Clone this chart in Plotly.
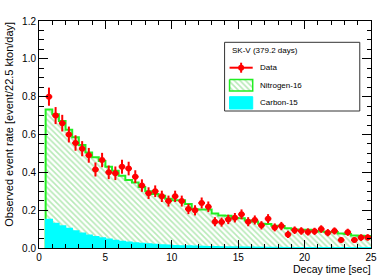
import numpy as np
import plotly.graph_objects as go

# ---- data ----
bin_edges = [0.5 + 0.5 * i for i in range(50)]  # 0.5 ... 25.0
bin_centers = [0.75 + 0.5 * i for i in range(49)]

data_rate = [0.80, 0.70, 0.66, 0.60, 0.555, 0.525, 0.49, 0.415, 0.465, 0.40,
             0.395, 0.43, 0.42, 0.377, 0.33, 0.29, 0.30, 0.273, 0.248, 0.273,
             0.248, 0.206, 0.199, 0.238, 0.218, 0.139, 0.137, 0.151, 0.160, 0.178,
             0.139, 0.148, 0.120, 0.155, 0.109, 0.116, 0.072, 0.094, 0.090, 0.085,
             0.088, 0.100, 0.081, 0.090, 0.042, 0.083, 0.042, 0.055, 0.056]
data_err = [0.048, 0.045, 0.044, 0.042, 0.041, 0.040, 0.039, 0.037, 0.038, 0.036,
            0.036, 0.037, 0.036, 0.034, 0.033, 0.031, 0.031, 0.030, 0.029, 0.030,
            0.029, 0.027, 0.027, 0.029, 0.028, 0.024, 0.024, 0.025, 0.025, 0.026,
            0.024, 0.024, 0.022, 0.024, 0.021, 0.022, 0.019, 0.020, 0.020, 0.019,
            0.019, 0.020, 0.019, 0.019, 0.015, 0.019, 0.015, 0.017, 0.017]

# stacked total (Nitrogen-16 on top of Carbon-15)
n16_total = [0.732, 0.707, 0.672, 0.625, 0.585, 0.545, 0.505, 0.480, 0.460, 0.430,
             0.408, 0.382, 0.360, 0.346, 0.322, 0.300, 0.285, 0.276, 0.260, 0.253,
             0.252, 0.232, 0.205, 0.204, 0.203, 0.183, 0.172, 0.170, 0.158, 0.157,
             0.145, 0.140, 0.128, 0.127, 0.117, 0.116, 0.105, 0.098, 0.097, 0.096,
             0.090, 0.087, 0.085, 0.084, 0.076, 0.074, 0.066, 0.065, 0.063]
c15 = [0.151, 0.130, 0.116, 0.103, 0.090, 0.078, 0.068, 0.060, 0.053, 0.046,
       0.040, 0.035, 0.031, 0.027, 0.024, 0.021, 0.018, 0.016, 0.014, 0.012,
       0.011, 0.010, 0.009, 0.008, 0.007, 0.006, 0.005, 0.005, 0.004, 0.004,
       0.003, 0.003, 0.003, 0.002, 0.002, 0.002, 0.002, 0.001, 0.001, 0.001,
       0.001, 0.001, 0.001, 0.001, 0.001, 0.001, 0.001, 0.001, 0.001]

x_ticks = [0, 5, 10, 15, 20, 25]
y_ticks = [0.0, 0.2, 0.4, 0.6, 0.8, 1.0, 1.2]

legend_header = "SK-V (379.2 days)"
legend_labels = ["Data", "Nitrogen-16", "Carbon-15"]

FONT = "Liberation Sans, Arial, sans-serif"
GREEN = "#22ee22"
HATCH = "#6fd46f"
CYAN = "#00ffff"
RED = "#ff0000"

# plot-area geometry in pixels (used to place the hand-drawn legend)
PL, PR, PT, PB = 39, 373, 21, 248


def px(x):
    return (x - PL) / (PR - PL)


def py(y):
    return (PB - y) / (PB - PT)


def step(values):
    xs = [bin_edges[0]]
    ys = [0.0]
    for i, v in enumerate(values):
        xs += [bin_edges[i], bin_edges[i + 1]]
        ys += [v, v]
    return xs, ys


fig = go.Figure()

gx, gy = step(n16_total)
fig.add_trace(go.Scatter(x=gx, y=gy, mode="lines", fill="tozeroy",
                         fillcolor="rgba(0,0,0,0)",
                         fillpattern=dict(shape="\\", fgcolor=HATCH, bgcolor="white",
                                          size=4, solidity=0.4),
                         line=dict(color=GREEN, width=2), showlegend=False,
                         hoverinfo="skip"))
cx, cy = step(c15)
fig.add_trace(go.Scatter(x=cx, y=cy, mode="lines", fill="tozeroy",
                         fillcolor=CYAN, line=dict(color=CYAN, width=1.5),
                         showlegend=False, hoverinfo="skip"))

fig.add_trace(go.Scatter(x=bin_centers, y=data_rate, mode="markers",
                         marker=dict(color=RED, size=6, symbol="circle"),
                         error_y=dict(type="data", array=data_err, color=RED,
                                      thickness=2, width=0),
                         error_x=dict(type="constant", value=0.25, color=RED,
                                      thickness=2, width=0),
                         showlegend=False, cliponaxis=False))

# ---- manual legend on a pixel-like overlay axis ----
LX0, LX1, LY0, LY1 = 225.7, 361.7, 42.3, 111.0
sym_x0, sym_x1 = 230.7, 254.0
text_x = 259.3
fig.add_trace(go.Scatter(x=[(sym_x0 + sym_x1) / 2], y=[67.7], mode="markers",
                         xaxis="x2", yaxis="y2",
                         marker=dict(color=RED, size=6),
                         error_x=dict(type="constant", value=(sym_x1 - sym_x0) / 2,
                                      color=RED, thickness=2, width=0),
                         error_y=dict(type="constant", value=5, color=RED,
                                      thickness=2, width=0),
                         showlegend=False))
fig.add_trace(go.Scatter(x=[sym_x0, sym_x1, sym_x1, sym_x0, sym_x0],
                         y=[79.5, 79.5, 91, 91, 79.5], mode="lines",
                         xaxis="x2", yaxis="y2", fill="toself",
                         fillcolor="rgba(0,0,0,0)",
                         fillpattern=dict(shape="\\", fgcolor=HATCH, bgcolor="white",
                                          size=4, solidity=0.4),
                         line=dict(color=GREEN, width=1.5), showlegend=False))
fig.add_trace(go.Scatter(x=[sym_x0, sym_x1, sym_x1, sym_x0, sym_x0],
                         y=[96.7, 96.7, 109, 109, 96.7], mode="lines",
                         xaxis="x2", yaxis="y2", fill="toself",
                         fillcolor=CYAN, line=dict(color=CYAN, width=1),
                         showlegend=False))

annotations = [
    dict(x=px(LX0 + 5), y=py(50), xref="paper", yref="paper", text=legend_header,
         showarrow=False, xanchor="left", yanchor="middle",
         font=dict(family=FONT, size=8, color="black")),
]
for lab, yy in zip(legend_labels, [67.7, 85.2, 102.8]):
    annotations.append(dict(x=px(text_x), y=py(yy), xref="paper", yref="paper", text=lab,
                            showarrow=False, xanchor="left", yanchor="middle",
                            font=dict(family=FONT, size=8, color="black")))
annotations.append(dict(x=px(375), y=py(269), xref="paper", yref="paper",
                        text="Decay time [sec]",
                        showarrow=False, xanchor="right", yanchor="middle",
                        font=dict(family=FONT, size=10.5, color="black")))
annotations.append(dict(x=px(8), y=py(20), xref="paper", yref="paper",
                        text="Observed event rate [event/22.5 kton/day]",
                        textangle=-90, showarrow=False, xanchor="center", yanchor="top",
                        font=dict(family=FONT, size=11, color="black")))

fig.update_layout(
    width=389, height=279,
    margin=dict(l=PL, r=389 - PR, t=PT, b=279 - PB),
    paper_bgcolor="white", plot_bgcolor="white",
    font=dict(family=FONT, size=10, color="black"),
    xaxis=dict(range=[0, 25], tickvals=x_ticks, ticktext=[str(v) for v in x_ticks],
               ticks="inside", ticklen=8, tickwidth=1, tickcolor="black",
               minor=dict(dtick=1, ticks="inside", ticklen=4, tickcolor="black"),
               showline=True, linecolor="black", linewidth=1, mirror="allticks",
               showgrid=False, zeroline=False, tickfont=dict(size=10)),
    yaxis=dict(range=[0, 1.2], tickvals=y_ticks, ticktext=["%.1f" % v for v in y_ticks],
               ticks="inside", ticklen=9, tickwidth=1, tickcolor="black",
               minor=dict(dtick=0.05, ticks="inside", ticklen=4.5, tickcolor="black"),
               showline=True, linecolor="black", linewidth=1, mirror="allticks",
               showgrid=False, zeroline=False, tickfont=dict(size=10)),
    xaxis2=dict(range=[PL, PR], overlaying="x", anchor="y2", visible=False),
    yaxis2=dict(range=[PB, PT], overlaying="y", anchor="x2", visible=False),
    shapes=[dict(type="rect", xref="x2", yref="y2", x0=LX0, x1=LX1, y0=LY0, y1=LY1,
                 line=dict(color="#333333", width=1), fillcolor="rgba(0,0,0,0)",
                 layer="above")],
    annotations=annotations,
    showlegend=False,
)

fig.write_html("out.html", config={"displayModeBar": False},
               post_script="document.body.style.margin='0';document.body.style.padding='0';")
